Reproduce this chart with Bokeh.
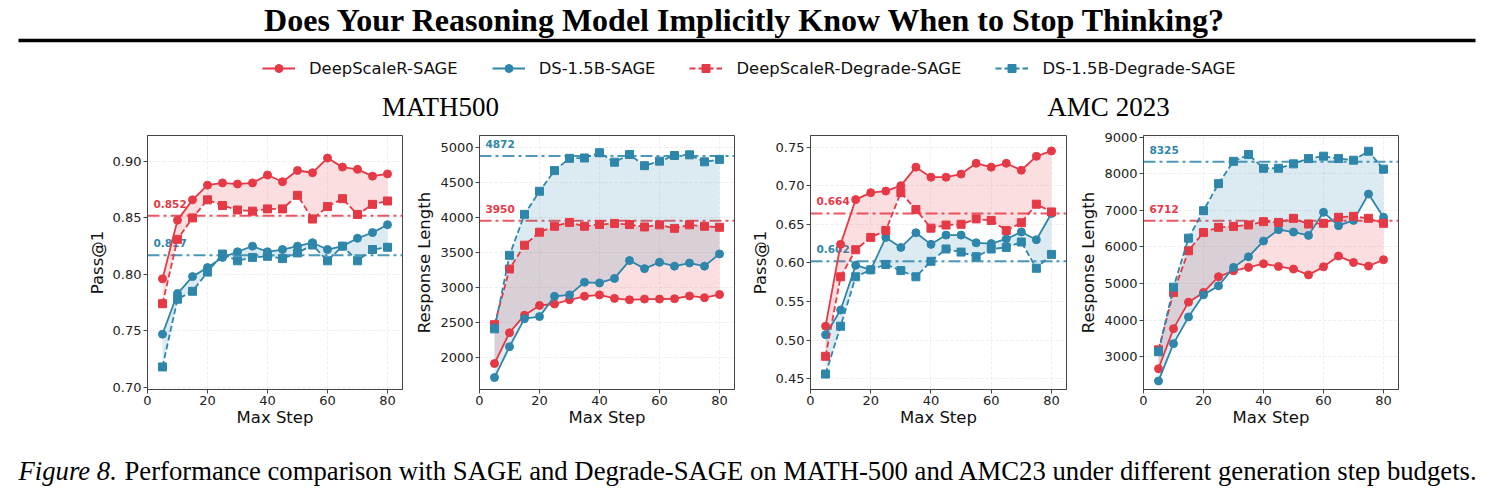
from bokeh.plotting import figure
from bokeh.models import Range1d, Span, Legend, LegendItem, FixedTicker, NumeralTickFormatter
from bokeh.layouts import column, row
from bokeh.embed import file_html
from bokeh.resources import INLINE
from bokeh.core.properties import value

RED = "#E63946"
BLUE = "#2E86AB"
SANS = "DejaVu Sans"
SERIF = "Liberation Serif"
NAN = float("nan")

# ---- data -------------------------------------------------------------
steps = [5, 10, 15, 20, 25, 30, 35, 40, 45, 50, 55, 60, 65, 70, 75, 80]

series_names = ["DeepScaleR-SAGE", "DS-1.5B-SAGE", "DeepScaleR-Degrade-SAGE", "DS-1.5B-Degrade-SAGE"]

# MATH500 Pass@1
math_acc_deepscaler_sage = [0.796, 0.848, 0.866, 0.879, 0.881, 0.880, 0.881, 0.888, 0.882, 0.892, 0.890, 0.903, 0.895, 0.893, 0.887, 0.889]
math_acc_ds15b_sage = [0.747, 0.783, 0.798, 0.806, 0.815, 0.820, 0.825, 0.820, 0.822, 0.825, 0.828, 0.822, 0.825, 0.832, 0.837, 0.844]
math_acc_deepscaler_degrade = [0.774, 0.831, 0.850, 0.866, 0.861, 0.857, 0.856, 0.858, 0.858, 0.870, 0.849, 0.860, 0.867, 0.853, 0.862, 0.865]
math_acc_ds15b_degrade = [0.718, 0.778, 0.785, 0.802, 0.818, 0.812, 0.815, 0.816, 0.814, 0.819, 0.826, 0.812, 0.825, 0.812, 0.822, 0.824]
math_acc_ref_deepscaler = 0.852
math_acc_ref_ds15b = 0.817

# MATH500 response length
math_len_deepscaler_sage = [1910, 2350, 2600, 2740, 2760, 2820, 2870, 2890, 2840, 2820, 2830, 2830, 2835, 2875, 2850, 2895]
math_len_ds15b_sage = [1710, 2150, 2550, 2580, 2870, 2890, 3070, 3060, 3125, 3380, 3265, 3355, 3300, 3345, 3300, 3475]
math_len_deepscaler_degrade = [2465, 3260, 3600, 3785, 3870, 3925, 3870, 3895, 3910, 3895, 3860, 3890, 3840, 3890, 3870, 3855]
math_len_ds15b_degrade = [2405, 3455, 4040, 4370, 4665, 4840, 4845, 4920, 4785, 4895, 4735, 4800, 4880, 4890, 4790, 4825]
math_len_ref_deepscaler = 3950
math_len_ref_ds15b = 4872

# AMC 2023 Pass@1
amc_acc_deepscaler_sage = [0.518, 0.624, 0.682, 0.691, 0.693, 0.700, 0.724, 0.711, 0.711, 0.715, 0.729, 0.724, 0.729, 0.720, 0.738, 0.745]
amc_acc_ds15b_sage = [0.507, 0.539, 0.597, 0.591, 0.633, 0.620, 0.639, 0.624, 0.636, 0.636, 0.626, 0.625, 0.631, 0.640, 0.630, 0.664]
amc_acc_deepscaler_degrade = [0.479, 0.582, 0.617, 0.633, 0.642, 0.691, 0.669, 0.645, 0.649, 0.650, 0.657, 0.655, 0.642, 0.652, 0.676, 0.666]
amc_acc_ds15b_degrade = [0.456, 0.518, 0.582, 0.591, 0.598, 0.590, 0.582, 0.602, 0.618, 0.614, 0.608, 0.618, 0.620, 0.627, 0.593, 0.611]
amc_acc_ref_deepscaler = 0.664
amc_acc_ref_ds15b = 0.602

# AMC 2023 response length
amc_len_deepscaler_sage = [2670, 3765, 4490, 4755, 5185, 5345, 5440, 5540, 5465, 5395, 5235, 5455, 5750, 5575, 5475, 5650]
amc_len_ds15b_sage = [2335, 3355, 4085, 4690, 4935, 5440, 5730, 6160, 6470, 6405, 6315, 6945, 6580, 6725, 7445, 6810]
amc_len_deepscaler_degrade = [3185, 4755, 5895, 6395, 6535, 6560, 6600, 6690, 6670, 6780, 6625, 6645, 6810, 6835, 6780, 6645]
amc_len_ds15b_degrade = [3135, 4900, 6240, 6990, 7730, 8340, 8525, 8150, 8150, 8270, 8415, 8480, 8415, 8370, 8615, 8125]
amc_len_ref_deepscaler = 6712
amc_len_ref_ds15b = 8325

x_ticks = [0, 20, 40, 60, 80]
acc_ticks_math = [0.70, 0.75, 0.80, 0.85, 0.90]
len_ticks_math = [2000, 2500, 3000, 3500, 4000, 4500, 5000]
acc_ticks_amc = [0.45, 0.50, 0.55, 0.60, 0.65, 0.70, 0.75]
len_ticks_amc = [3000, 4000, 5000, 6000, 7000, 8000, 9000]

TITLE = "Does Your Reasoning Model Implicitly Know When to Stop Thinking?"
CAPTION_LEAD = "Figure 8."
CAPTION_BODY = ("Performance comparison with SAGE and Degrade-SAGE on MATH-500 and AMC23 "
                "under different generation step budgets.")

STYLES = [
    (RED, "solid", "circle"),
    (BLUE, "solid", "circle"),
    (RED, "6 3", "square"),
    (BLUE, "6 3", "square"),
]


def canvas(w, h):
    c = figure(width=w, height=h, x_range=Range1d(0, w), y_range=Range1d(h, 0),
               output_backend="svg", toolbar_location=None, min_border=0)
    c.axis.visible = False
    c.grid.visible = False
    c.outline_line_color = None
    return c


def panel(y_label, sage_r, sage_b, deg_r, deg_b, ref_r, ref_b, ticks, fmt,
          kind, left, right, fw, ref_fmt):
    everything = sage_r + sage_b + deg_r + deg_b
    if kind == "acc":
        lo, hi = min(everything) - 0.02, max(everything) + 0.02
    else:
        lo, hi = min(everything) * 0.9, max(everything) * 1.05
    p = figure(frame_width=fw, frame_height=254, min_border_left=left, min_border_right=right,
               min_border_top=10, min_border_bottom=50,
               x_range=Range1d(0, 85), y_range=Range1d(lo, hi),
               output_backend="svg", toolbar_location=None)
    p.xaxis.ticker = FixedTicker(ticks=x_ticks)
    p.yaxis.ticker = FixedTicker(ticks=ticks)
    p.yaxis.formatter = NumeralTickFormatter(format=fmt)
    p.xaxis.axis_label = "Max Step"
    p.yaxis.axis_label = y_label
    for ax in (p.xaxis, p.yaxis):
        ax.axis_label_text_font = SANS
        ax.axis_label_text_font_size = "16.5px"
        ax.axis_label_text_font_style = "normal"
        ax.axis_label_text_color = "#111111"
        ax.major_label_text_font = SANS
        ax.major_label_text_font_size = "13px"
        ax.major_label_text_color = "#222222"
        ax.major_tick_out = 4
        ax.major_tick_in = 0
        ax.minor_tick_line_color = None
        ax.axis_line_color = "#444444"
        ax.major_tick_line_color = "#444444"
    p.xaxis.major_label_standoff = 2
    p.xaxis.axis_label_standoff = 0
    p.yaxis.major_label_standoff = 2
    p.yaxis.axis_label_standoff = 3
    p.outline_line_color = "#444444"
    p.outline_line_alpha = 1
    p.grid.grid_line_color = "#d4d4d4"
    p.grid.grid_line_alpha = 0.5
    p.grid.grid_line_dash = "3 2"
    p.grid.grid_line_width = 0.8

    # reference levels with their value tags
    for ref, color in ((ref_r, RED), (ref_b, BLUE)):
        p.add_layout(Span(location=ref, dimension="width", line_color=color, line_width=2,
                          line_alpha=0.85, line_dash="12 4 3 4", level="underlay"))
        p.text(x=[2], y=[ref], text=[ref_fmt.format(ref)], text_color=color,
               text_font=value(SANS), text_font_size="10.5px", text_font_style="bold",
               text_baseline="bottom", text_align="left", y_offset=-8)

    # shaded gap between SAGE and Degrade-SAGE
    p.varea(x=steps, y1=sage_r, y2=deg_r, fill_color=RED, fill_alpha=0.17)
    p.varea(x=steps, y1=sage_b, y2=deg_b, fill_color=BLUE, fill_alpha=0.17)

    for vals, (color, dash, marker) in zip((sage_r, sage_b, deg_r, deg_b), STYLES):
        p.line(steps, vals, line_color=color, line_width=1.8, line_dash=dash)
        p.scatter(steps, vals, marker=marker, size=8, fill_color=color, line_color=color)
    return p


# ---- header: title, rule, legend, group titles -------------------------
head = canvas(1490, 125)
head.text(x=[745], y=[19], text=[TITLE], text_font=value(SERIF), text_font_style="bold",
          text_font_size="32px", text_align="center", text_baseline="middle", text_color="black")
head.segment(x0=[18], y0=[40], x1=[1475], y1=[40], line_width=3.5, line_color="black")
head.text(x=[440, 1108], y=[106, 106], text=["MATH500", "AMC 2023"], text_font=value(SERIF),
          text_font_size="27px", text_align="center", text_baseline="middle", text_color="black")

# legend keys: proxy renderers holding no drawable points
items = []
for name, (color, dash, marker) in zip(series_names, STYLES):
    lr = head.line(x=[NAN], y=[NAN], line_color=color, line_width=2, line_dash=dash)
    sr = head.scatter(x=[NAN], y=[NAN], marker=marker, size=8, fill_color=color, line_color=color)
    items.append(LegendItem(label=name, renderers=[lr, sr]))
legend = Legend(items=items, orientation="horizontal", location=(262, 47),
                label_text_font=SANS, label_text_font_size="16.4px", label_text_color="#111111",
                glyph_width=33, glyph_height=20, label_standoff=14, spacing=34,
                padding=0, margin=0, border_line_color=None, background_fill_alpha=0)
head.add_layout(legend)

# ---- panels -----------------------------------------------------------
p1 = panel("Pass@1", math_acc_deepscaler_sage, math_acc_ds15b_sage, math_acc_deepscaler_degrade,
           math_acc_ds15b_degrade, math_acc_ref_deepscaler, math_acc_ref_ds15b, acc_ticks_math,
           "0.00", "acc", 147, 10, 255, "{:.3f}")
p2 = panel("Response Length", math_len_deepscaler_sage, math_len_ds15b_sage, math_len_deepscaler_degrade,
           math_len_ds15b_degrade, math_len_ref_deepscaler, math_len_ref_ds15b, len_ticks_math,
           "0", "len", 66, 10, 255, "{:d}")
p3 = panel("Pass@1", amc_acc_deepscaler_sage, amc_acc_ds15b_sage, amc_acc_deepscaler_degrade,
           amc_acc_ds15b_degrade, amc_acc_ref_deepscaler, amc_acc_ref_ds15b, acc_ticks_amc,
           "0.00", "acc", 66, 10, 256, "{:.3f}")
p4 = panel("Response Length", amc_len_deepscaler_sage, amc_len_ds15b_sage, amc_len_deepscaler_degrade,
           amc_len_ds15b_degrade, amc_len_ref_deepscaler, amc_len_ref_ds15b, len_ticks_amc,
           "0", "len", 66, 94, 255, "{:d}")

# ---- caption ----------------------------------------------------------
foot = canvas(1490, 59)
cap_size = 26.7
foot.text(x=[18], y=[31], text=[CAPTION_LEAD], text_font=value(SERIF), text_font_style="italic",
          text_font_size=f"{cap_size}px", text_baseline="middle", text_align="left", text_color="black")
foot.text(x=[18 + 3.97 * cap_size], y=[31], text=[CAPTION_BODY], text_font=value(SERIF),
          text_font_size=f"{cap_size}px", text_baseline="middle", text_align="left", text_color="black")

layout = column(head, row(p1, p2, p3, p4), foot)
open("out.html", "w").write(file_html(layout, INLINE))
